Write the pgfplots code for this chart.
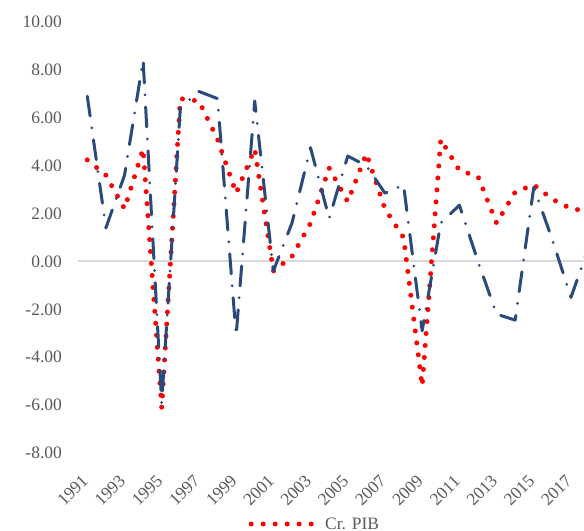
\documentclass[border=0pt]{standalone}
\usepackage{fontspec}
\setmainfont{Liberation Serif}
\usepackage{pgfplots}
\pgfplotsset{compat=1.18}
\definecolor{pibred}{RGB}{255,0,0}
\definecolor{navyline}{RGB}{41,74,122}
\definecolor{txtgray}{RGB}{89,89,89}
\definecolor{gridgray}{RGB}{217,217,217}
\begin{document}
\begin{tikzpicture}
\useasboundingbox (0,0) rectangle (584bp,531bp);
\begin{axis}[
  scale only axis, width=506bp, height=431bp,
  at={(78bp,78bp)}, anchor=south west,
  xmin=1990.5, xmax=2017.7, ymin=-8, ymax=10,
  axis line style={draw=none},
  major tick length=0pt,
  xtick={1991,1993,1995,1997,1999,2001,2003,2005,2007,2009,2011,2013,2015,2017},
  xticklabels={1991,1993,1995,1997,1999,2001,2003,2005,2007,2009,2011,2013,2015,2017},
  ytick={-8,-6,-4,-2,0,2,4,6,8,10},
  yticklabels={-8.00,-6.00,-4.00,-2.00,0.00,2.00,4.00,6.00,8.00,10.00},
  tick label style={font=\fontsize{17.5}{20}\selectfont, text=txtgray},
  yticklabel style={anchor=east, inner sep=0pt, xshift=-16bp},
  xticklabel style={rotate=45, anchor=east, inner sep=0pt, xshift=-3bp},
  xticklabel shift=23bp,
  extra y ticks={0},
  extra y tick labels={},
  extra y tick style={grid=major, major grid style={draw=gridgray, line width=2bp}},
  legend style={at={(0.468,-0.1648)}, anchor=center, draw=none, fill=none,
    font=\fontsize{17.5}{20}\selectfont, text=txtgray},
  legend image code/.code={\draw[#1] (0bp,0bp) -- (61bp,0bp); \path (69.5bp,0bp);},
]
\addplot[pibred, line width=5bp, dash pattern=on 0bp off 12bp, line cap=round, line join=round] coordinates {
(1991,4.24) (1992,3.6) (1993,2.2) (1994,4.7) (1995,-6.1) (1996,6.8) (1997,6.7)
(1998,5.1) (1999,2.85) (2000,4.7) (2001,-0.4) (2002,0.2) (2003,1.6) (2004,3.9)
(2005,2.5) (2006,4.5) (2007,2.2) (2008,1.0) (2009,-5.2) (2010,5.1) (2011,3.8)
(2012,3.55) (2013,1.6) (2014,2.9) (2015,3.2) (2016,2.6) (2017,2.2) (2018,2.1)
};
\addlegendentry{Cr. PIB}
\addplot[navyline, line width=3bp, dash pattern=on 20bp off 12bp on 0bp off 12bp, line cap=round, line join=round, forget plot] coordinates {
(1991,6.9) (1992,1.4) (1993,3.6) (1994,8.4) (1995,-5.9) (1996,6.4) (1997,7.1)
(1998,6.8) (1999,-3.1) (2000,6.7) (2001,-0.4) (2002,1.6) (2003,4.75) (2004,1.8)
(2005,4.4) (2006,4.0) (2007,2.85) (2008,3.2) (2009,-2.9) (2010,1.6) (2011,2.35)
(2012,0.0) (2013,-2.2) (2014,-2.45) (2015,3.1) (2016,0.9) (2017,-1.5) (2018,0.7)
};
\end{axis}
\end{tikzpicture}
\end{document}
